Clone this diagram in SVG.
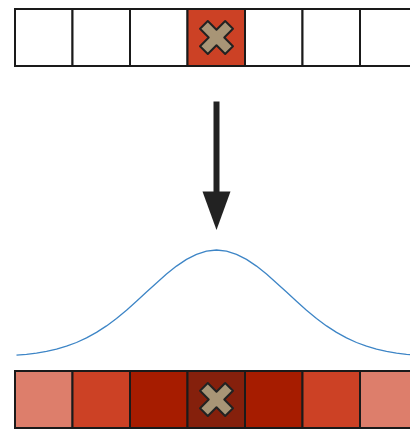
<svg xmlns="http://www.w3.org/2000/svg" width="410" height="429" viewBox="0 0 410 429">
<defs>
<style>
.cell{stroke:#1a1a1a;stroke-width:2}
.w{fill:#ffffff}
.c1{fill:#dd7e6b}
.c2{fill:#cc4125}
.c3{fill:#a61c00}
.c4{fill:#85200c}
.x{fill:#a89576;stroke:#222222;stroke-width:2;stroke-linejoin:round}
.curve{fill:none;stroke:#3d85c6;stroke-width:1.3}
</style>
<polygon id="cross" points="-5.5,-17.8 5.5,-17.8 5.5,-5.5 17.8,-5.5 17.8,5.5 5.5,5.5 5.5,17.8 -5.5,17.8 -5.5,5.5 -17.8,5.5 -17.8,-5.5 -5.5,-5.5"/>
</defs>
<rect width="410" height="429" fill="#ffffff"/>
<g id="input-row">
<g id="in0"><rect class="cell w" x="15" y="9" width="57.5" height="57"/></g>
<g id="in1"><rect class="cell w" x="72.5" y="9" width="57.5" height="57"/></g>
<g id="in2"><rect class="cell w" x="130" y="9" width="57.5" height="57"/></g>
<g id="in3"><rect class="cell c2" x="187.5" y="9" width="57.5" height="57"/><use href="#cross" class="x" transform="translate(216.5,37.5) rotate(45)"/></g>
<g id="in4"><rect class="cell w" x="245" y="9" width="57.5" height="57"/></g>
<g id="in5"><rect class="cell w" x="302.5" y="9" width="57.5" height="57"/></g>
<g id="in6"><rect class="cell w" x="360" y="9" width="57.5" height="57"/></g>
</g>
<g id="connectors">
<rect x="213.5" y="101.5" width="6" height="92" fill="#222222"/>
<polygon points="202.5,191.5 230.5,191.5 216.5,230" fill="#222222"/>
</g>
<g id="gaussian">
<path class="curve" d="M16.5,355.2 L26.5,354.3 L36.5,353.1 L46.5,351.4 L56.5,349.1 L66.5,346.2 L76.5,342.5 L86.5,337.9 L96.5,332.4 L106.5,325.9 L116.5,318.4 L126.5,310.2 L136.5,301.3 L146.5,292.1 L156.5,282.9 L166.5,274.1 L176.5,266.1 L186.5,259.4 L196.5,254.3 L206.5,251.1 L216.5,250 L226.5,251.1 L236.5,254.3 L246.5,259.4 L256.5,266.1 L266.5,274.1 L276.5,282.9 L286.5,292.1 L296.5,301.3 L306.5,310.2 L316.5,318.4 L326.5,325.9 L336.5,332.4 L346.5,337.9 L356.5,342.5 L366.5,346.2 L376.5,349.1 L386.5,351.4 L396.5,353.1 L406.5,354.3 L412,354.8" stroke-linejoin="round"/>
</g>
<g id="output-row">
<g id="out0"><rect class="cell c1" x="15" y="371" width="57.5" height="57"/></g>
<g id="out1"><rect class="cell c2" x="72.5" y="371" width="57.5" height="57"/></g>
<g id="out2"><rect class="cell c3" x="130" y="371" width="57.5" height="57"/></g>
<g id="out3"><rect class="cell c4" x="187.5" y="371" width="57.5" height="57"/><use href="#cross" class="x" transform="translate(216.5,399.5) rotate(45)"/></g>
<g id="out4"><rect class="cell c3" x="245" y="371" width="57.5" height="57"/></g>
<g id="out5"><rect class="cell c2" x="302.5" y="371" width="57.5" height="57"/></g>
<g id="out6"><rect class="cell c1" x="360" y="371" width="57.5" height="57"/></g>
</g>
</svg>
